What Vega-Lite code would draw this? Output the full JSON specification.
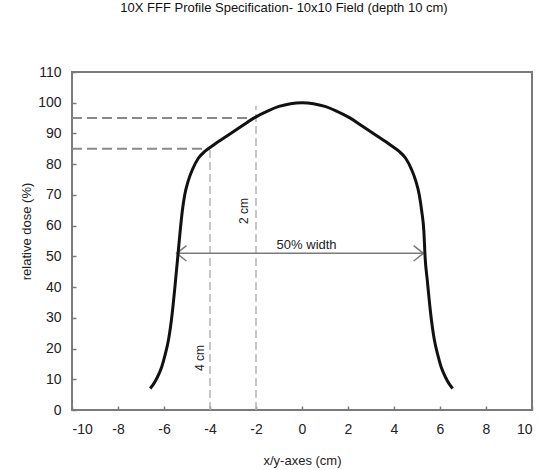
{
  "$schema": "https://vega.github.io/schema/vega-lite/v6.json",
  "width": 460,
  "height": 338,
  "autosize": "none",
  "padding": {"left": 72, "top": 72, "right": 13, "bottom": 60},
  "background": "white",
  "title": {
    "text": "10X  FFF Profile Specification- 10x10 Field (depth 10 cm)",
    "fontSize": 13,
    "fontWeight": "normal",
    "font": "Liberation Sans",
    "color": "#111",
    "anchor": "middle",
    "dx": -18,
    "offset": 50
  },
  "config": {
    "font": "Liberation Sans",
    "view": {"stroke": "#7a7a7a", "strokeWidth": 2},
    "axis": {
      "grid": false,
      "domain": false,
      "tickColor": "#7a7a7a",
      "tickSize": -4,
      "tickWidth": 1.5,
      "labelOverlap": false,
      "labelFont": "Liberation Sans",
      "labelFontSize": 14,
      "labelColor": "#222",
      "titleFont": "Liberation Sans",
      "titleFontSize": 13,
      "titleFontWeight": "normal",
      "titleColor": "#222"
    }
  },
  "datasets": {
    "profile": [
      {"x": -6.6, "y": 7},
      {"x": -6.45, "y": 8.5},
      {"x": -6.3, "y": 10.5},
      {"x": -6.1, "y": 14},
      {"x": -5.95, "y": 18},
      {"x": -5.8, "y": 23},
      {"x": -5.65, "y": 31},
      {"x": -5.5, "y": 42},
      {"x": -5.4, "y": 50},
      {"x": -5.3, "y": 58},
      {"x": -5.2, "y": 65},
      {"x": -5.1, "y": 70},
      {"x": -4.95, "y": 74.5},
      {"x": -4.75, "y": 78.5},
      {"x": -4.5, "y": 82},
      {"x": -4.2, "y": 84.3},
      {"x": -3.8, "y": 86.5},
      {"x": -3.2, "y": 89.5},
      {"x": -2.6, "y": 92.5},
      {"x": -2.1, "y": 95},
      {"x": -1.5, "y": 97.3},
      {"x": -1.0, "y": 98.8},
      {"x": -0.5, "y": 99.7},
      {"x": 0.0, "y": 100},
      {"x": 0.5, "y": 99.7},
      {"x": 1.0, "y": 98.8},
      {"x": 1.5, "y": 97.3},
      {"x": 2.1, "y": 95},
      {"x": 2.6, "y": 92.5},
      {"x": 3.2, "y": 89.5},
      {"x": 3.8, "y": 86.5},
      {"x": 4.2, "y": 84.3},
      {"x": 4.5, "y": 82},
      {"x": 4.75, "y": 78.5},
      {"x": 4.95, "y": 74.5},
      {"x": 5.1, "y": 70},
      {"x": 5.2, "y": 65},
      {"x": 5.3, "y": 58},
      {"x": 5.35, "y": 50},
      {"x": 5.45, "y": 42},
      {"x": 5.6, "y": 31},
      {"x": 5.75, "y": 23},
      {"x": 5.9, "y": 18},
      {"x": 6.05, "y": 14},
      {"x": 6.25, "y": 10.5},
      {"x": 6.4, "y": 8.5},
      {"x": 6.55, "y": 7}
    ],
    "hlines": [
      {"x": -10, "x2": -2, "y": 95},
      {"x": -10, "x2": -4, "y": 85}
    ],
    "vlines": [
      {"x": -4, "y": 0, "y2": 85},
      {"x": -2, "y": 0, "y2": 99}
    ],
    "arrow": [
      {"x": -5.45, "x2": 5.28, "y": 51}
    ],
    "arrowLeft": [{"x": -5.45, "y": 51}],
    "arrowRight": [{"x": 5.28, "y": 51}],
    "widthLabel": [{"x": 0.2, "y": 53.7, "label": "50% width"}],
    "vLabels": [
      {"x": -2.52, "y": 64.8, "label": "2 cm"},
      {"x": -4.43, "y": 16.9, "label": "4 cm"}
    ]
  },
  "encoding": {
    "x": {"field": "x", "type": "quantitative", "scale": {"domain": [-10, 10]},
          "axis": {"values": [-10, -8, -6, -4, -2, 0, 2, 4, 6, 8, 10], "labelExpr": "'' + datum.value", "title": "x/y-axes (cm)", "labelPadding": 16, "titlePadding": 18}},
    "y": {"field": "y", "type": "quantitative", "scale": {"domain": [0, 110]},
          "axis": {"values": [0, 10, 20, 30, 40, 50, 60, 70, 80, 90, 100, 110], "title": "relative dose (%)", "labelPadding": 15, "titleX": -39, "titleY": 159, "titleAngle": 270, "titleBaseline": "bottom", "titleAlign": "center"}}
  },
  "layer": [
    {
      "data": {"name": "hlines"},
      "mark": {"type": "rule", "color": "#8a8a8a", "strokeWidth": 2, "strokeDash": [10, 5]},
      "encoding": {"x2": {"field": "x2"}}
    },
    {
      "data": {"name": "vlines"},
      "mark": {"type": "rule", "color": "#b5b5b5", "strokeWidth": 1.5, "strokeDash": [8, 4]},
      "encoding": {"y2": {"field": "y2"}}
    },
    {
      "data": {"name": "arrow"},
      "mark": {"type": "rule", "color": "#7a7a7a", "strokeWidth": 1.5},
      "encoding": {"x2": {"field": "x2"}}
    },
    {
      "data": {"name": "arrowLeft"},
      "mark": {"type": "point", "shape": "M1.4,-1.1L0,0L1.4,1.1", "filled": false, "stroke": "#7a7a7a", "strokeWidth": 1.5, "size": 196, "opacity": 1},
      "encoding": {}
    },
    {
      "data": {"name": "arrowRight"},
      "mark": {"type": "point", "shape": "M-1.4,-1.1L0,0L-1.4,1.1", "filled": false, "stroke": "#7a7a7a", "strokeWidth": 1.5, "size": 196, "opacity": 1},
      "encoding": {}
    },
    {
      "data": {"name": "profile"},
      "mark": {"type": "line", "color": "#111", "strokeWidth": 3, "interpolate": "monotone"},
      "encoding": {}
    },
    {
      "data": {"name": "widthLabel"},
      "mark": {"type": "text", "fontSize": 13, "color": "#222", "align": "center", "baseline": "middle"},
      "encoding": {"text": {"field": "label"}}
    },
    {
      "data": {"name": "vLabels"},
      "mark": {"type": "text", "fontSize": 12, "color": "#222", "align": "center", "baseline": "middle", "angle": 270},
      "encoding": {"text": {"field": "label"}}
    }
  ]
}
